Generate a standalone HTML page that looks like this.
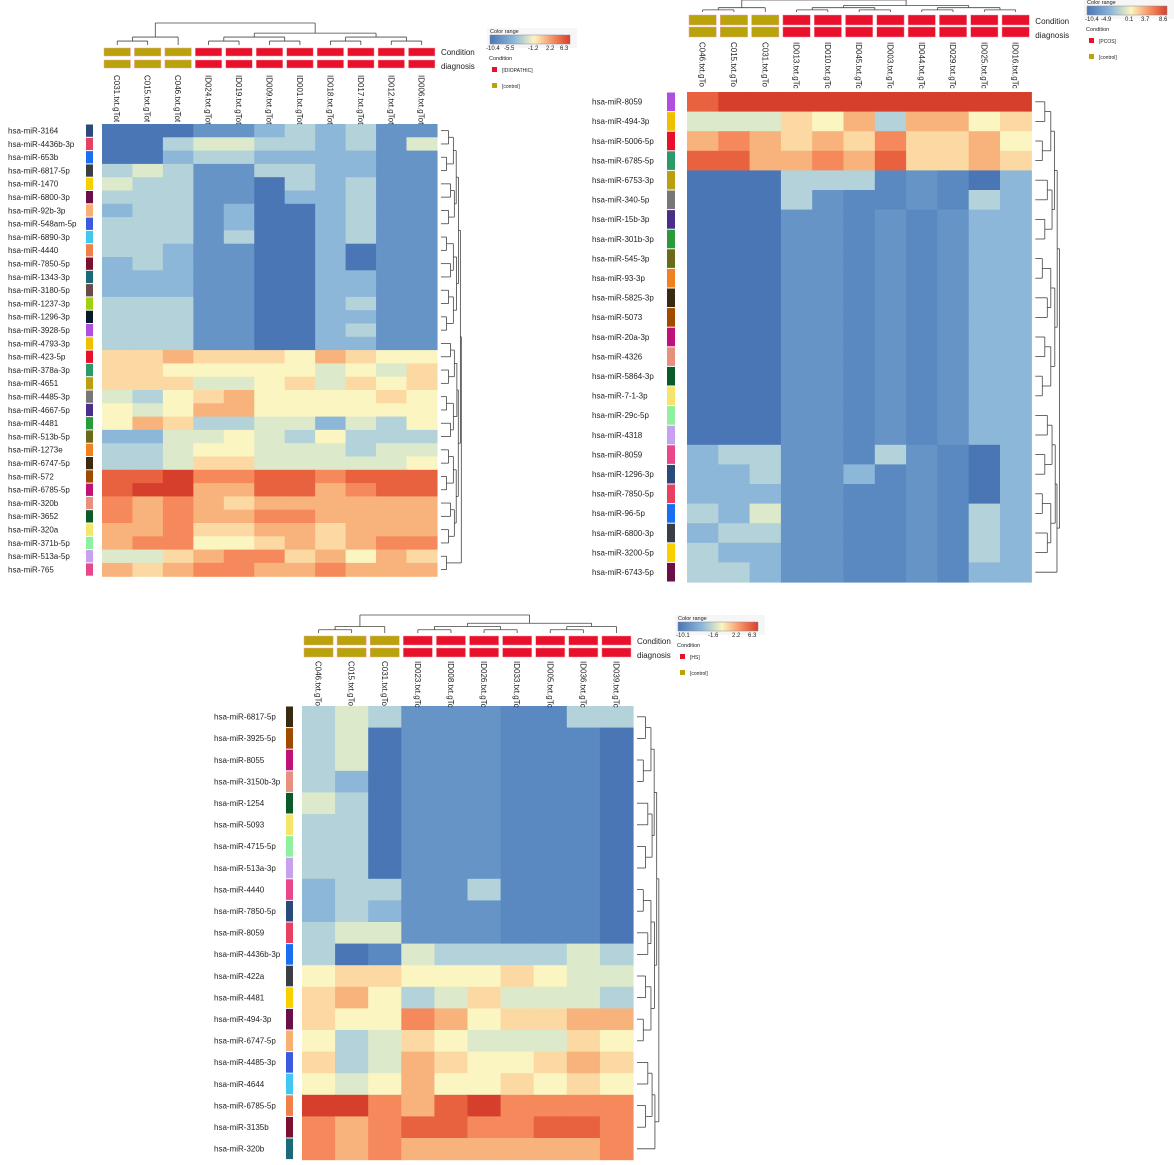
<!DOCTYPE html>
<html><head><meta charset="utf-8"><style>
html,body{margin:0;padding:0;background:#fff;}
svg{display:block;font-family:"Liberation Sans",sans-serif;}
</style></head><body>
<svg id="s" width="1174" height="1165" xmlns="http://www.w3.org/2000/svg"></svg>
<script>
const C={B:'#4a76b6',m:'#5a89c1',b:'#6794c6',c:'#8db7d9',d:'#b3d2d9',e:'#dceacb',y:'#fbf5c1',p:'#fcd9a2',o:'#f8b27b',O:'#f5895c',r:'#e9623f',R:'#d63f2c'};
const strips=['#2b4a7a','#6b0f4a','#7b1030','#b04ee0','#777','#3a2a10','#f5e66a','#e84060','#f7b071','#1a6a7a','#f0c000','#4a2e8a','#a04a00','#8ff0a0','#1a6ef0','#3a5ae0','#6a4a4a','#e8102a','#2a9a3a','#c0107a','#c8a0f0','#3a3e45','#40c8f0','#a0d010','#2a9a6a','#6a6a1a','#e89080','#e8488a','#f8d000','#f0804a','#051a2a','#b8a010','#f08020','#0a5a2a'];
let out='';
function T(x,y,t,fs,extra){out+=`<text x="${x}" y="${y}" font-size="${fs}" fill="#222" ${extra||''}>${t}</text>`;}
function L(x1,y1,x2,y2){out+=`<line x1="${x1}" y1="${y1}" x2="${x2}" y2="${y2}" stroke="#444" stroke-width="0.8"/>`;}
function dendroRows(x0,y0,rh,n,w){ // right side
  let nodes=[];for(let i=0;i<n;i++)nodes.push({y:y0+rh*(i+.5),x:x0+4});
  let lvl=1;
  while(nodes.length>1){let nn=[];for(let i=0;i<nodes.length;i+=2){if(i+1<nodes.length){let a=nodes[i],b=nodes[i+1];let x=Math.max(a.x,b.x)+w*(0.35+0.25*((i*7+lvl)%3)/2)/lvl;L(a.x,a.y,x,a.y);L(b.x,b.y,x,b.y);L(x,a.y,x,b.y);nn.push({x:x,y:(a.y+b.y)/2});}else nn.push(nodes[i]);}nodes=nn;lvl++;}
}
function dendroCols(x0,cw,n,yb,h,split){
  function build(idx){let nodes=idx.map(i=>({x:x0+cw*(i+.5),y:yb}));let lvl=1;
    while(nodes.length>1){let nn=[];for(let i=0;i<nodes.length;i+=2){if(i+1<nodes.length){let a=nodes[i],b=nodes[i+1];let y=Math.min(a.y,b.y)-h*0.18;L(a.x,a.y,a.x,y);L(b.x,b.y,b.x,y);L(a.x,y,b.x,y);nn.push({x:(a.x+b.x)/2,y:y});}else nn.push(nodes[i]);}nodes=nn;lvl++;}return nodes[0];}
  let a=build([...Array(split).keys()]),b=build([...Array(n-split).keys()].map(i=>i+split));
  let y=yb-h;L(a.x,a.y,a.x,y);L(b.x,b.y,b.x,y);L(a.x,y,b.x,y);
}
function panel(p){
  const n=p.rows.length,nc=p.cols.length;
  p.rows.forEach((r,i)=>{const y=p.y0+i*p.rh;
    T(p.lx,y+p.rh/2+p.fs*0.35,r[0],p.fs);
    out+=`<rect x="${p.sx}" y="${y+0.5}" width="${p.sw}" height="${p.rh-1}" fill="${strips[(i*7+p.seed)%strips.length]}"/>`;
    r[1].split(' ').forEach((k,j)=>{out+=`<rect x="${(p.x0+j*p.cw).toFixed(2)}" y="${y.toFixed(2)}" width="${(p.cw+0.6).toFixed(2)}" height="${(p.rh+0.6).toFixed(2)}" fill="${C[k]}"/>`;});
  });
  p.cols.forEach((c,j)=>{const x=p.x0+j*p.cw;const col=j<3?'#b8a40a':'#e8102a';
    out+=`<rect x="${x+2}" y="${p.cy}" width="${p.cw-4}" height="${p.bh}" fill="${col}" stroke="#f4a0a8" stroke-width="0.5"/>`;
    out+=`<rect x="${x+2}" y="${p.dy}" width="${p.cw-4}" height="${p.bh}" fill="${col}" stroke="#f4a0a8" stroke-width="0.5"/>`;
    const tx=x+p.cw/2-3,ty=p.ly;out+=`<text x="${tx}" y="${ty}" font-size="${p.fs}" fill="#222" transform="rotate(90 ${tx} ${ty})">${c}</text>`;
  });
  const xr=p.x0+nc*p.cw;
  T(xr+4,p.cy+p.bh-1,'Condition',p.fs);T(xr+4,p.dy+p.bh+1,'diagnosis',p.fs);
  dendroCols(p.x0,p.cw,nc,p.cy-3,p.dh,3);
  dendroRows(xr,p.y0,p.rh,n,p.rw);
  // legend
  const g=p.g;
  out+=`<defs><linearGradient id="g${p.seed}"><stop offset="0" stop-color="#4a76b6"/><stop offset="0.3" stop-color="#8db7d9"/><stop offset="0.55" stop-color="#fbf5c1"/><stop offset="0.8" stop-color="#f5895c"/><stop offset="1" stop-color="#d63f2c"/></linearGradient></defs>`;
  out+=`<rect x="${g[0]-3}" y="${g[1]-2}" width="90" height="20" fill="#f6f6f6"/>`;
  T(g[0],g[1]+3,'Color range',5.5);
  out+=`<rect x="${g[0]}" y="${g[1]+5}" width="80" height="9" fill="url(#g${p.seed})" stroke="#889" stroke-width="0.5"/>`;
  p.ticks.forEach(t=>T(g[0]+t[0],g[1]+20,t[1],6));
  T(g[0]-1,g[1]+30,'Condition',5.5);
  out+=`<rect x="${g[0]+2}" y="${g[1]+37}" width="5" height="5" fill="#e8102a"/>`;T(g[0]+12,g[1]+42,p.lab,5);
  out+=`<rect x="${g[0]+2}" y="${g[1]+53}" width="5" height="5" fill="#b8a40a"/>`;T(g[0]+12,g[1]+58,'[control]',5);
}
const R=s=>s;
panel({seed:0,x0:102,y0:124,cw:30.45,rh:13.3,lx:8,sx:86,sw:7,fs:8,cy:48,dy:60,bh:8,ly:75,dh:22,rw:16,g:[490,30],lab:'[IDIOPATHIC]',
ticks:[[-4,'-10.4'],[14,'-5.5'],[38,'-1.2'],[56,'2.2'],[70,'6.3']],
cols:['C031.txt.gTot','C015.txt.gTot','C046.txt.gTot','ID024.txt.gTot','ID019.txt.gTot','ID009.txt.gTot','ID001.txt.gTot','ID018.txt.gTot','ID017.txt.gTot','ID012.txt.gTot','ID006.txt.gTot'],
rows:[['hsa-miR-3164','B B B b b c d c d b b'],['hsa-miR-4436b-3p','B B d e e d d c d b e'],['hsa-miR-653b','B B c d d c c c c b b'],['hsa-miR-6817-5p','d e d b b d d c c b b'],['hsa-miR-1470','e d d b b B d c d b b'],['hsa-miR-6800-3p','d d d b b B c c d b b'],['hsa-miR-92b-3p','c d d b c B B c d b b'],['hsa-miR-548am-5p','d d d b c B B c d b b'],['hsa-miR-6890-3p','d d d b d B B c d b b'],['hsa-miR-4440','d d c b b B B c B b b'],['hsa-miR-7850-5p','c d c b b B B c B b b'],['hsa-miR-1343-3p','c c c b b B B c c b b'],['hsa-miR-3180-5p','c c c b b B B c c b b'],['hsa-miR-1237-3p','d d d b b B B c d b b'],['hsa-miR-1296-3p','d d d b b B B c c b b'],['hsa-miR-3928-5p','d d d b b B B c d b b'],['hsa-miR-4793-3p','d d d b b B B c c b b'],['hsa-miR-423-5p','p p o p p p y o p y y'],['hsa-miR-378a-3p','p p y y y y y e y e p'],['hsa-miR-4651','p p p e e y p e p y p'],['hsa-miR-4485-3p','e d y p o y y y y p y'],['hsa-miR-4667-5p','y e y o o y y y y y y'],['hsa-miR-4481','y o p d d e e c e d y'],['hsa-miR-513b-5p','c c e e y e d y d d d'],['hsa-miR-1273e','d d e y y e e e d e e'],['hsa-miR-6747-5p','d d e p p e e e e e y'],['hsa-miR-572','r r R O O r r O r r r'],['hsa-miR-6785-5p','r R R o o r r o O r r'],['hsa-miR-320b','O o O o p o o o o o o'],['hsa-miR-3652','O o O o o O O o o o o'],['hsa-miR-320a','o o O p p o o p o o o'],['hsa-miR-371b-5p','o O O y y p o p o O O'],['hsa-miR-513a-5p','e e p o O O p o y o p'],['hsa-miR-765','o p o O O o o O o o o']]});
const blu='B B B b b m b m b c c';
panel({seed:3,x0:687,y0:92,cw:31.3,rh:19.6,lx:592,sx:667,sw:8,fs:8,cy:15,dy:27,bh:10,ly:42,dh:12,rw:20,g:[1087,1],lab:'[PCOS]',
ticks:[[-2,'-10.4'],[14,'-4.9'],[38,'0.1'],[54,'3.7'],[72,'8.6']],
cols:['C046.txt.gTo','C015.txt.gTo','C031.txt.gTo','ID013.txt.gTc','ID010.txt.gTc','ID045.txt.gTc','ID003.txt.gTc','ID044.txt.gTc','ID029.txt.gTc','ID025.txt.gTc','ID016.txt.gTc'],
rows:[['hsa-miR-8059','r R R R R R R R R R R'],['hsa-miR-494-3p','e e e p y o d o o y p'],['hsa-miR-5006-5p','o O o p o p O p p o y'],['hsa-miR-6785-5p','r r o o O o r p p o p'],['hsa-miR-6753-3p','B B B d d d m b m B c'],['hsa-miR-340-5p','B B B d b m m b m d c'],['hsa-miR-15b-3p',blu],['hsa-miR-301b-3p',blu],['hsa-miR-545-3p',blu],['hsa-miR-93-3p',blu],['hsa-miR-5825-3p',blu],['hsa-miR-5073',blu],['hsa-miR-20a-3p',blu],['hsa-miR-4326',blu],['hsa-miR-5864-3p',blu],['hsa-miR-7-1-3p',blu],['hsa-miR-29c-5p',blu],['hsa-miR-4318',blu],['hsa-miR-8059','c d d b b m d b m B c'],['hsa-miR-1296-3p','c c d b b c m b m B c'],['hsa-miR-7850-5p','c c c b b m m b m B c'],['hsa-miR-96-5p','d c e b b m m b m d c'],['hsa-miR-6800-3p','c d d b b m m b m d c'],['hsa-miR-3200-5p','d c c b b m m b m d c'],['hsa-miR-6743-5p','d d c b b m m b m c c']]});
const b3='B b b b m m b B';
panel({seed:5,x0:302,y0:706,cw:33.1,rh:21.6,lx:214,sx:286,sw:7,fs:8,cy:636,dy:648,bh:9,ly:661,dh:18,rw:18,g:[678,617],lab:'[HS]',
ticks:[[-2,'-10.1'],[30,'-1.6'],[54,'2.2'],[70,'6.3']],
cols:['C046.txt.gTo','C015.txt.gTo','C031.txt.gTo','ID023.txt.gTc','ID008.txt.gTc','ID026.txt.gTc','ID033.txt.gTc','ID005.txt.gTc','ID036.txt.gTc','ID039.txt.gTc'],
rows:[['hsa-miR-6817-5p','d e d b b b m m d d'],['hsa-miR-3925-5p','d e B b b b m m m B'],['hsa-miR-8055','d e B b b b m m m B'],['hsa-miR-3150b-3p','d c B b b b m m m B'],['hsa-miR-1254','e d B b b b m m m B'],['hsa-miR-5093','d d B b b b m m m B'],['hsa-miR-4715-5p','d d B b b b m m m B'],['hsa-miR-513a-3p','d d B b b b m m m B'],['hsa-miR-4440','c d d b b d m m m B'],['hsa-miR-7850-5p','c d c b b b m m m B'],['hsa-miR-8059','d e e b b b m m m B'],['hsa-miR-4436b-3p','d B m e d d d d e d'],['hsa-miR-422a','y p p y y y p y e e'],['hsa-miR-4481','p o y d e p e e e d'],['hsa-miR-494-3p','p y y O o y p p o o'],['hsa-miR-6747-5p','y d e p y e e e p y'],['hsa-miR-4485-3p','p d e o p y y p o p'],['hsa-miR-4644','y e y o y y p y p y'],['hsa-miR-6785-5p','R R O o r R O O O O'],['hsa-miR-3135b','O o O r r O O r r O'],['hsa-miR-320b','O o O o o o o o o O']]});
document.getElementById('s').innerHTML=out;
</script>
</body></html>
